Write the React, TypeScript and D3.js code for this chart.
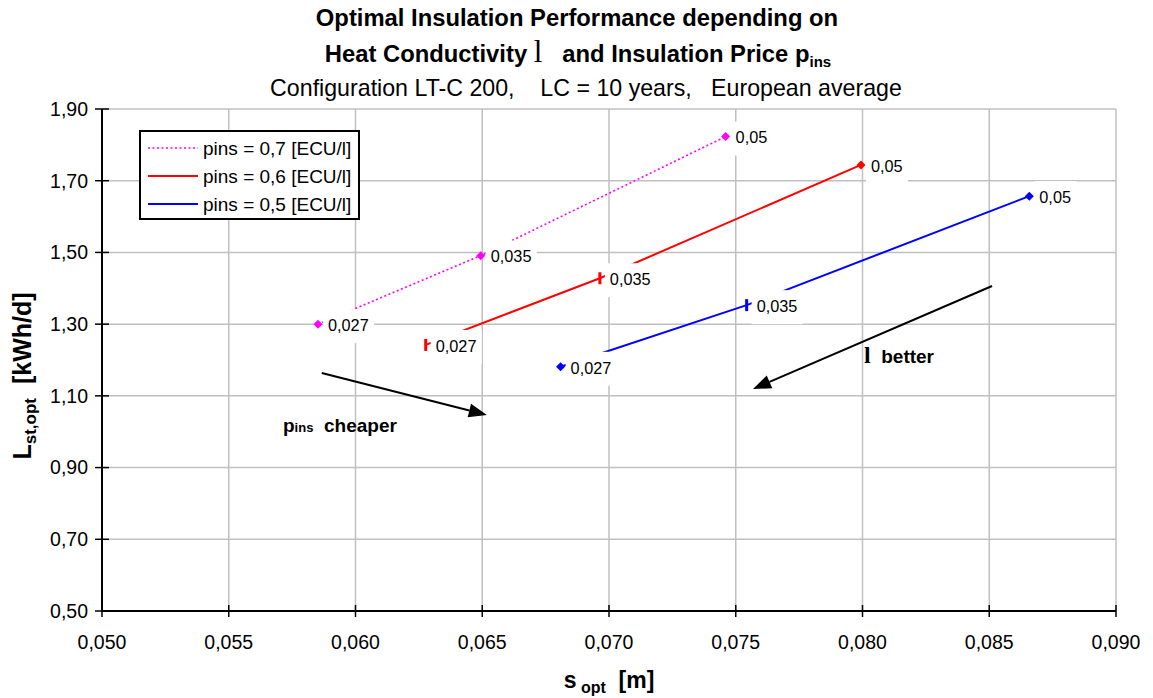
import { scaleLinear, format, line as d3line } from "d3";

// axis ticks
const xTicks = [0.05, 0.055, 0.06, 0.065, 0.07, 0.075, 0.08, 0.085, 0.09];
const yTicks = [0.5, 0.7, 0.9, 1.1, 1.3, 1.5, 1.7, 1.9];

// heat conductivity lambda at each point of a series
const lambdaLabels = ["0,027", "0,035", "0,05"];

// pins = 0,7
const sP07 = [0.05852, 0.06494, 0.0746];
const lP07 = [1.3, 1.491, 1.823];
// pins = 0,6
const sP06 = [0.06277, 0.06964, 0.07994];
const lP06 = [1.242, 1.428, 1.744];
// pins = 0,5
const sP05 = [0.06809, 0.07543, 0.08658];
const lP05 = [1.181, 1.353, 1.657];

const legendNames = ["pins = 0,7 [ECU/l]", "pins = 0,6 [ECU/l]", "pins = 0,5 [ECU/l]"];

// annotation arrows, in data units [s, L]
const arrowCheaper = [[0.05867, 1.1637], [0.06518, 1.0466]];
const arrowBetter = [[0.08511, 1.4063], [0.07568, 1.1191]];

const W = 1153;
const H = 698;
const M = { top: 109, right: 37, bottom: 87, left: 102 };
const FONT = "'Liberation Sans', Arial, sans-serif";
const SERIF = "'Liberation Serif', 'Times New Roman', serif";

const fmtX = (v: number) => format(".3f")(v).replace(".", ",");
const fmtY = (v: number) => format(".2f")(v).replace(".", ",");

type Marker = "diamond" | "bar";

const series = [
  { name: legendNames[0], s: sP07, l: lP07, color: "#ff00ff", dash: "2 2.5", width: 1.6, markers: ["diamond", "diamond", "diamond"] as Marker[] },
  { name: legendNames[1], s: sP06, l: lP06, color: "#ff0000", dash: undefined, width: 2, markers: ["bar", "bar", "diamond"] as Marker[] },
  { name: legendNames[2], s: sP05, l: lP05, color: "#0000ff", dash: undefined, width: 2, markers: ["diamond", "bar", "diamond"] as Marker[] },
];

// rough Arial width for the data labels
const labelWidth = (t: string, size: number) =>
  t.split("").reduce((acc, ch) => acc + (ch === "," ? 0.278 : 0.556), 0) * size;

function Arrow({ from, to, x, y }: { from: number[]; to: number[]; x: (v: number) => number; y: (v: number) => number }) {
  const x1 = x(from[0]);
  const y1 = y(from[1]);
  const x2 = x(to[0]);
  const y2 = y(to[1]);
  const a = Math.atan2(y2 - y1, x2 - x1);
  const len = 18;
  const half = 7;
  const bx = x2 - len * Math.cos(a);
  const by = y2 - len * Math.sin(a);
  const nx = -Math.sin(a) * half;
  const ny = Math.cos(a) * half;
  return (
    <g>
      <line x1={x1} y1={y1} x2={bx} y2={by} stroke="#000" strokeWidth={2} />
      <polygon points={`${x2},${y2} ${bx + nx},${by + ny} ${bx - nx},${by - ny}`} fill="#000" />
    </g>
  );
}

export default function App() {
  const x = scaleLinear().domain([0.05, 0.09]).range([M.left, W - M.right]);
  const y = scaleLinear().domain([0.5, 1.9]).range([H - M.bottom, M.top]);
  const x0 = M.left;
  const x1 = W - M.right;
  const y0 = H - M.bottom;
  const y1 = M.top;

  return (
    <svg
      width={W}
      height={H}
      viewBox={`0 0 ${W} ${H}`}
      style={{ position: "absolute", left: 0, top: 0, background: "#fff" }}
      fontFamily={FONT}
    >
      {/* title */}
      <text x={577} y={26} textAnchor="middle" fontSize={23.8} fontWeight="bold">
        Optimal Insulation Performance depending on
      </text>
      <text x={578} y={62} textAnchor="middle" fontSize={23.8} fontWeight="bold" style={{ whiteSpace: "pre" }}>
        {"Heat Conductivity "}
        <tspan fontFamily={SERIF} fontSize={31} fontWeight="normal">l</tspan>
        {"   and Insulation Price p"}
        <tspan fontSize={15} dy={5}>ins</tspan>
      </text>
      <text x={586} y={96} textAnchor="middle" fontSize={23.2} style={{ whiteSpace: "pre" }}>
        {"Configuration LT-C 200,    LC = 10 years,   European average"}
      </text>

      {/* gridlines */}
      {xTicks.slice(1).map((t) => (
        <line key={`gx${t}`} x1={x(t)} x2={x(t)} y1={y1} y2={y0} stroke="#c0c0c0" strokeWidth={1.5} />
      ))}
      {yTicks.slice(1).map((t) => (
        <line key={`gy${t}`} x1={x0} x2={x1} y1={y(t)} y2={y(t)} stroke="#c0c0c0" strokeWidth={1.5} />
      ))}

      {/* series lines */}
      {series.map((sr) => {
        const path = d3line<number>()
          .x((_, i) => x(sr.s[i]))
          .y((v) => y(v))(sr.l);
        return (
          <path key={sr.name} d={path ?? ""} fill="none" stroke={sr.color} strokeWidth={sr.width} strokeDasharray={sr.dash} />
        );
      })}

      {/* label boxes (white, covering lines & grid) */}
      {series.map((sr) =>
        sr.l.map((v, i) => {
          const px = x(sr.s[i]);
          const py = y(v);
          const w = labelWidth(lambdaLabels[i], 16);
          return <rect key={`b${sr.name}${i}`} x={px + 5} y={py - 15} width={w + 11} height={34} fill="#fff" />;
        })
      )}

      {/* markers */}
      {series.map((sr) =>
        sr.l.map((v, i) => {
          const px = x(sr.s[i]);
          const py = y(v);
          return sr.markers[i] === "diamond" ? (
            <polygon
              key={`m${sr.name}${i}`}
              points={`${px},${py - 4.5} ${px + 4.5},${py} ${px},${py + 4.5} ${px - 4.5},${py}`}
              fill={sr.color}
            />
          ) : (
            <rect key={`m${sr.name}${i}`} x={px - 1.5} y={py - 6} width={3} height={12} fill={sr.color} />
          );
        })
      )}

      {/* data labels */}
      {series.map((sr) =>
        sr.l.map((v, i) => (
          <text key={`t${sr.name}${i}`} x={x(sr.s[i]) + 10} y={y(v) + 1} dy="0.35em" fontSize={16.3} fill="#000">
            {lambdaLabels[i]}
          </text>
        ))
      )}

      {/* axes */}
      <line x1={x0} x2={x0} y1={y1} y2={y0 + 1} stroke="#000" strokeWidth={2} />
      <line x1={x0 - 1} x2={x1} y1={y0} y2={y0} stroke="#000" strokeWidth={2} />
      {yTicks.map((t) => (
        <g key={`ty${t}`}>
          <line x1={x0 - 7} x2={x0 + 7} y1={y(t)} y2={y(t)} stroke="#000" strokeWidth={1.5} />
          <text x={x0 - 14} y={y(t)} dy="0.35em" textAnchor="end" fontSize={19.5}>
            {fmtY(t)}
          </text>
        </g>
      ))}
      {xTicks.map((t) => (
        <g key={`tx${t}`}>
          <line x1={x(t)} x2={x(t)} y1={y0 - 6} y2={y0 + 6} stroke="#000" strokeWidth={1.5} />
          <text x={x(t)} y={y0 + 38} textAnchor="middle" fontSize={19.5}>
            {fmtX(t)}
          </text>
        </g>
      ))}

      {/* axis titles */}
      <text x={609} y={688} textAnchor="middle" fontSize={23} fontWeight="bold" style={{ whiteSpace: "pre" }}>
        {"s"}
        <tspan fontSize={16} dy={5}>{" opt"}</tspan>
        <tspan dy={-5}>{"  [m]"}</tspan>
      </text>
      <text
        transform={`translate(31,${376}) rotate(-90)`}
        textAnchor="middle"
        fontSize={25}
        fontWeight="bold"
        style={{ whiteSpace: "pre" }}
      >
        {"L"}
        <tspan fontSize={17} dy={5}>st,opt</tspan>
        <tspan dy={-5}>{"  [kWh/d]"}</tspan>
      </text>

      {/* legend */}
      <rect x={140} y={131} width={219} height={88} fill="#fff" stroke="#000" strokeWidth={2} />
      {series.map((sr, i) => {
        const ly = 148 + i * 28;
        return (
          <g key={`lg${sr.name}`}>
            <line x1={148} x2={198} y1={ly} y2={ly} stroke={sr.color} strokeWidth={sr.width} strokeDasharray={sr.dash} />
            <text x={203} y={ly} dy="0.35em" fontSize={19}>
              {sr.name}
            </text>
          </g>
        );
      })}

      {/* annotations */}
      <Arrow from={arrowCheaper[0]} to={arrowCheaper[1]} x={x} y={y} />
      <Arrow from={arrowBetter[0]} to={arrowBetter[1]} x={x} y={y} />
      <text x={283} y={432} fontSize={19} fontWeight="bold" style={{ whiteSpace: "pre" }}>
        {"p"}
        <tspan fontSize={13}>ins</tspan>
        {"  cheaper"}
      </text>
      <text x={864} y={363} fontSize={19} fontWeight="bold" style={{ whiteSpace: "pre" }}>
        <tspan fontFamily={SERIF} fontSize={24}>l</tspan>
        {"  better"}
      </text>
    </svg>
  );
}
